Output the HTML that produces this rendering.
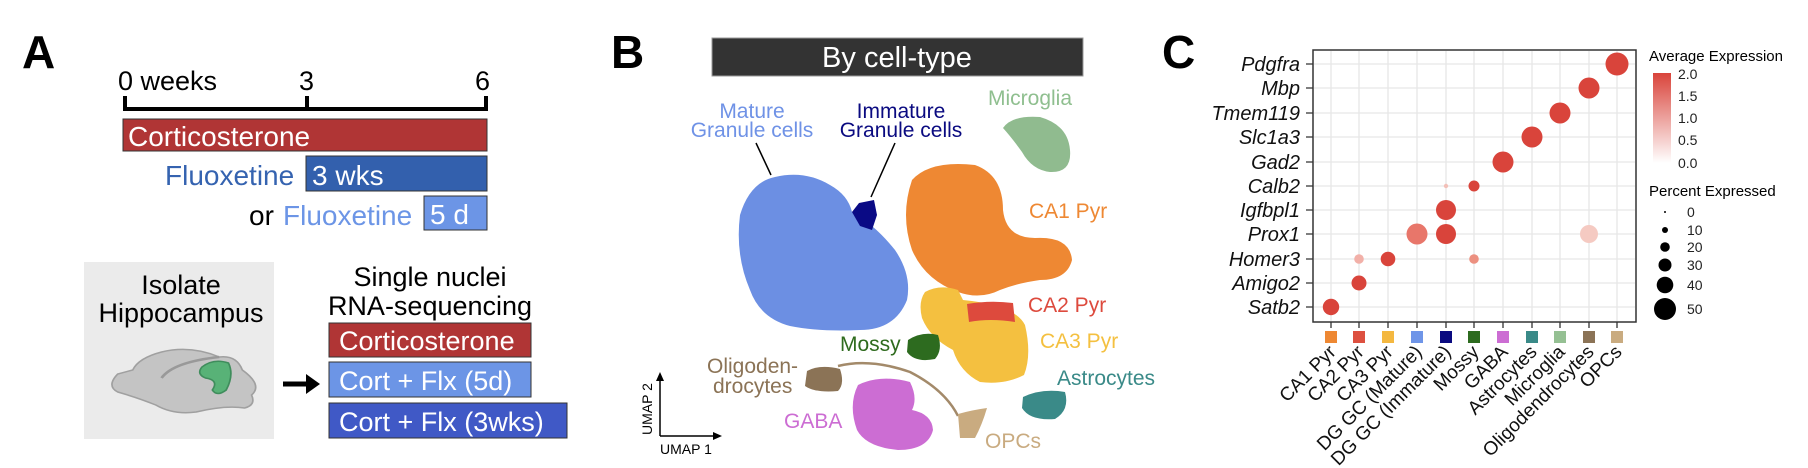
<!DOCTYPE html>
<html><head><meta charset="utf-8"><style>
html,body{margin:0;padding:0;background:#fff;}
svg{display:block;font-family:"Liberation Sans",Arial,sans-serif;}
</style></head><body>
<svg width="1808" height="468" viewBox="0 0 1808 468" xmlns="http://www.w3.org/2000/svg">
<rect width="1808" height="468" fill="#fff"/>
<!-- Panel A -->
<text x="22" y="68" font-size="46" font-weight="bold">A</text>
<text x="118" y="90" font-size="27">0 weeks</text>
<text x="299" y="90" font-size="27">3</text>
<text x="475" y="90" font-size="27">6</text>
<path d="M125 96 V109 H486 V96 M307 96 V109" stroke="#000" stroke-width="4" fill="none"/>
<rect x="123" y="119" width="364" height="32" fill="#b03535" stroke="#333" stroke-width="1"/>
<text x="128" y="146" font-size="28" fill="#fff">Corticosterone</text>
<text x="165" y="185" font-size="28" fill="#3563b0">Fluoxetine</text>
<rect x="306" y="156" width="181" height="35" fill="#3360ad" stroke="#333" stroke-width="1"/>
<text x="312" y="185" font-size="28" fill="#fff">3 wks</text>
<text x="249" y="225" font-size="28">or</text>
<text x="283" y="225" font-size="28" fill="#6c95e6">Fluoxetine</text>
<rect x="424" y="196" width="63" height="34" fill="#6c95e6" stroke="#333" stroke-width="1"/>
<text x="430" y="224" font-size="28" fill="#fff">5 d</text>
<rect x="84" y="262" width="190" height="177" fill="#ebebeb"/>
<text x="181" y="294" font-size="27" text-anchor="middle">Isolate</text>
<text x="181" y="322" font-size="27" text-anchor="middle">Hippocampus</text>
<g transform="scale(1.154 1)">
<path d="M102 374 Q92 386 102 392 Q120 398 135 405 Q150 415 170 412 Q195 405 212 408 Q222 405 218 395 Q228 385 210 370 Q205 355 190 357 Q165 345 140 352 Q120 358 115 370 Z" fill="#c4c4c4" stroke="#a0a0a0" stroke-width="1.5"/>
<path d="M140 378 Q150 362 190 357" stroke="#999" stroke-width="2.5" fill="none"/>
<path d="M175 367 Q185 358 198 363 Q203 375 196 390 Q188 397 184 390 Q190 380 178 378 Q170 374 175 367Z" fill="#58b277" stroke="#3f8d5c" stroke-width="1.5"/>
</g>
<path d="M283 384 H310" stroke="#000" stroke-width="5"/><path d="M306 374 L320 384 L306 394 Z" fill="#000"/>
<text x="430" y="286" font-size="27" text-anchor="middle">Single nuclei</text>
<text x="430" y="315" font-size="27" text-anchor="middle">RNA-sequencing</text>
<rect x="329" y="323" width="202" height="34" fill="#b03535" stroke="#333"/>
<text x="339" y="350" font-size="27" fill="#fff">Corticosterone</text>
<rect x="329" y="362" width="202" height="35" fill="#6c95e6" stroke="#333"/>
<text x="339" y="390" font-size="27" fill="#fff">Cort + Flx (5d)</text>
<rect x="329" y="403" width="238" height="35" fill="#4059c6" stroke="#333"/>
<text x="339" y="431" font-size="27" fill="#fff">Cort + Flx (3wks)</text>
<!-- Panel B -->
<text x="611" y="68" font-size="46" font-weight="bold">B</text>
<rect x="712" y="38" width="371" height="38" fill="#333" stroke="#999"/>
<text x="897" y="67" font-size="29" fill="#fff" text-anchor="middle">By cell-type</text>
<text x="752" y="118" font-size="21" fill="#6f92e6" text-anchor="middle">Mature</text>
<text x="752" y="137" font-size="21" fill="#6f92e6" text-anchor="middle">Granule cells</text>
<text x="901" y="118" font-size="21" fill="#0a0a80" text-anchor="middle">Immature</text>
<text x="901" y="137" font-size="21" fill="#0a0a80" text-anchor="middle">Granule cells</text>
<text x="988" y="105" font-size="21" fill="#8fbf8f">Microglia</text>
<path d="M756 143 L771 175 M895 143 L871 197" stroke="#000" stroke-width="1.5"/>
<path d="M1003 128 Q1012 115 1040 117 Q1068 125 1070 150 Q1072 173 1050 172 Q1032 170 1022 152 Q1012 138 1003 128Z" fill="#90bb8f"/>
<path d="M775 177 Q805 170 830 185 Q848 195 852 212 Q875 225 895 250 Q912 275 907 300 Q895 330 860 330 Q820 332 790 326 Q760 318 750 290 Q735 255 740 215 Q750 182 775 177Z" fill="#6c8fe3"/>
<path d="M859 203 L874 200 L877 215 L872 230 L860 226 L852 212Z" fill="#0a0a85"/>
<path d="M912 180 Q930 160 975 165 Q1003 175 1003 210 Q1006 238 1035 238 Q1070 236 1072 260 Q1067 280 1040 280 Q1018 283 1000 290 Q980 300 958 292 Q925 280 912 250 Q900 215 912 180Z" fill="#ee8833"/>
<path d="M925 292 Q940 284 958 290 L963 300 Q1015 305 1025 325 Q1032 355 1024 375 Q1005 385 980 382 Q960 372 953 350 Q930 338 922 318 Q918 302 925 292Z" fill="#f4c040"/>
<path d="M967 304 Q990 300 1013 303 L1015 322 Q990 318 969 322Z" fill="#dd4a3d"/>
<text x="1029" y="218" font-size="21" fill="#ee8833">CA1 Pyr</text>
<text x="1028" y="312" font-size="21" fill="#dd4a3d">CA2 Pyr</text>
<text x="1040" y="348" font-size="21" fill="#f4c040">CA3 Pyr</text>
<text x="840" y="351" font-size="21" fill="#2f6b1e">Mossy</text>
<path d="M908 340 Q922 331 938 335 Q943 350 935 359 Q915 363 907 352Z" fill="#2d6b1f"/>
<text x="707" y="373" font-size="21" fill="#8b7356">Oligoden-</text>
<text x="713" y="393" font-size="21" fill="#8b7356">drocytes</text>
<path d="M807 371 Q820 364 840 369 Q845 384 838 391 Q815 393 805 386Z" fill="#8b7356"/>
<path d="M838 366 Q870 358 910 372 Q945 390 958 416" stroke="#a38a6a" stroke-width="2.5" fill="none"/>
<path d="M958 414 Q972 410 987 408 Q982 425 975 438 L960 438Z" fill="#c9ab80"/>
<text x="985" y="448" font-size="21" fill="#c9ab80">OPCs</text>
<text x="784" y="428" font-size="21" fill="#cc6dd3">GABA</text>
<path d="M858 385 Q880 374 910 382 Q918 398 912 410 Q932 414 933 430 Q928 450 898 450 Q866 447 857 430 Q848 405 858 385Z" fill="#cc6dd3"/>
<text x="1057" y="385" font-size="21" fill="#3a8a88">Astrocytes</text>
<path d="M1023 397 Q1042 388 1065 392 Q1070 410 1055 419 Q1030 421 1022 408Z" fill="#3a8a88"/>
<path d="M660 436 V377 M660 436 H717" stroke="#000" stroke-width="1.5"/>
<path d="M656 381 L660 372 L664 381Z M713 432 L722 436 L713 440Z" fill="#000"/>
<text x="652" y="435" font-size="14" transform="rotate(-90 652 435)">UMAP 2</text>
<text x="660" y="454" font-size="14">UMAP 1</text>
<!-- Panel C -->
<text x="1162" y="68" font-size="46" font-weight="bold">C</text>
<g stroke="#e6e6e6" stroke-width="1.3">
<path d="M1314 64H1635M1314 88H1635M1314 113H1635M1314 137H1635M1314 162H1635M1314 186H1635M1314 210H1635M1314 234H1635M1314 259H1635M1314 283H1635M1314 307H1635"/>
<path d="M1331 51V321M1359 51V321M1388 51V321M1417 51V321M1446 51V321M1474 51V321M1503 51V321M1532 51V321M1560 51V321M1589 51V321M1617 51V321"/>
</g>
<rect x="1313" y="50" width="323" height="272" fill="none" stroke="#333" stroke-width="1.5"/>
<g stroke="#333" stroke-width="1.3">
<path d="M1306 64H1313M1306 88H1313M1306 113H1313M1306 137H1313M1306 162H1313M1306 186H1313M1306 210H1313M1306 234H1313M1306 259H1313M1306 283H1313M1306 307H1313"/>
<path d="M1331 322V328M1359 322V328M1388 322V328M1417 322V328M1446 322V328M1474 322V328M1503 322V328M1532 322V328M1560 322V328M1589 322V328M1617 322V328"/>
</g>
<g font-size="20" font-style="italic" text-anchor="end" fill="#111">
<text x="1300" y="71">Pdgfra</text><text x="1300" y="95">Mbp</text><text x="1300" y="120">Tmem119</text>
<text x="1300" y="144">Slc1a3</text><text x="1300" y="169">Gad2</text><text x="1300" y="193">Calb2</text>
<text x="1300" y="217">Igfbpl1</text><text x="1300" y="241">Prox1</text><text x="1300" y="266">Homer3</text>
<text x="1300" y="290">Amigo2</text><text x="1300" y="314">Satb2</text>
</g>
<g>
<circle cx="1617" cy="64" r="11.5" fill="#d9443b"/>
<circle cx="1589" cy="88" r="10.5" fill="#d9443b"/>
<circle cx="1560" cy="113" r="10.5" fill="#d9443b"/>
<circle cx="1532" cy="137" r="10.5" fill="#d9443b"/>
<circle cx="1503" cy="162" r="10.5" fill="#d9443b"/>
<circle cx="1474" cy="186" r="5.5" fill="#d9443b"/>
<circle cx="1446" cy="186" r="2.2" fill="#f3c0b8"/>
<circle cx="1446" cy="210" r="10" fill="#d9443b"/>
<circle cx="1417" cy="234" r="10.5" fill="#e8766a"/>
<circle cx="1446" cy="234" r="10" fill="#d9443b"/>
<circle cx="1589" cy="234" r="9" fill="#f5cac2"/>
<circle cx="1359" cy="259" r="4.8" fill="#f2b0a8"/>
<circle cx="1388" cy="259" r="7.3" fill="#d9443b"/>
<circle cx="1474" cy="259" r="4.8" fill="#ec9080"/>
<circle cx="1359" cy="283" r="7.5" fill="#d9443b"/>
<circle cx="1331" cy="307" r="8.2" fill="#d9443b"/>
</g>
<g>
<rect x="1325" y="331" width="12" height="12" fill="#ee8833"/>
<rect x="1353" y="331" width="12" height="12" fill="#dd5040"/>
<rect x="1382" y="331" width="12" height="12" fill="#f4b840"/>
<rect x="1411" y="331" width="12" height="12" fill="#6f95e8"/>
<rect x="1440" y="331" width="12" height="12" fill="#0a0a80"/>
<rect x="1468" y="331" width="12" height="12" fill="#2d6b1f"/>
<rect x="1497" y="331" width="12" height="12" fill="#cc6dd3"/>
<rect x="1526" y="331" width="12" height="12" fill="#3a8a88"/>
<rect x="1554" y="331" width="12" height="12" fill="#95c093"/>
<rect x="1583" y="331" width="12" height="12" fill="#8b7356"/>
<rect x="1611" y="331" width="12" height="12" fill="#c9ab80"/>
</g>
<g font-size="19" text-anchor="end" fill="#111">
<text transform="translate(1337 353) rotate(-45)">CA1 Pyr</text>
<text transform="translate(1365 353) rotate(-45)">CA2 Pyr</text>
<text transform="translate(1394 353) rotate(-45)">CA3 Pyr</text>
<text transform="translate(1423 353) rotate(-45)">DG GC (Mature)</text>
<text transform="translate(1452 353) rotate(-45)">DG GC (Immature)</text>
<text transform="translate(1480 353) rotate(-45)">Mossy</text>
<text transform="translate(1509 353) rotate(-45)">GABA</text>
<text transform="translate(1538 353) rotate(-45)">Astrocytes</text>
<text transform="translate(1566 353) rotate(-45)">Microglia</text>
<text transform="translate(1595 353) rotate(-45)">Oligodendrocytes</text>
<text transform="translate(1623 353) rotate(-45)">OPCs</text>
</g>
<defs><linearGradient id="cb" x1="0" y1="0" x2="0" y2="1"><stop offset="0" stop-color="#d9443b"/><stop offset="1" stop-color="#fff"/></linearGradient></defs>
<text x="1649" y="61" font-size="15">Average Expression</text>
<rect x="1653" y="73" width="18" height="90" fill="url(#cb)"/>
<g font-size="14" fill="#222">
<text x="1678" y="79">2.0</text><text x="1678" y="101">1.5</text><text x="1678" y="123">1.0</text><text x="1678" y="145">0.5</text><text x="1678" y="168">0.0</text>
</g>
<text x="1649" y="196" font-size="15">Percent Expressed</text>
<g fill="#000">
<circle cx="1665" cy="212" r="1"/><circle cx="1665" cy="230" r="3"/><circle cx="1665" cy="247" r="4.8"/>
<circle cx="1665" cy="265" r="6.5"/><circle cx="1665" cy="285" r="8.3"/><circle cx="1665" cy="309" r="11"/>
</g>
<g font-size="14" fill="#222">
<text x="1687" y="217">0</text><text x="1687" y="235">10</text><text x="1687" y="252">20</text>
<text x="1687" y="270">30</text><text x="1687" y="290">40</text><text x="1687" y="314">50</text>
</g>
</svg>
</body></html>
